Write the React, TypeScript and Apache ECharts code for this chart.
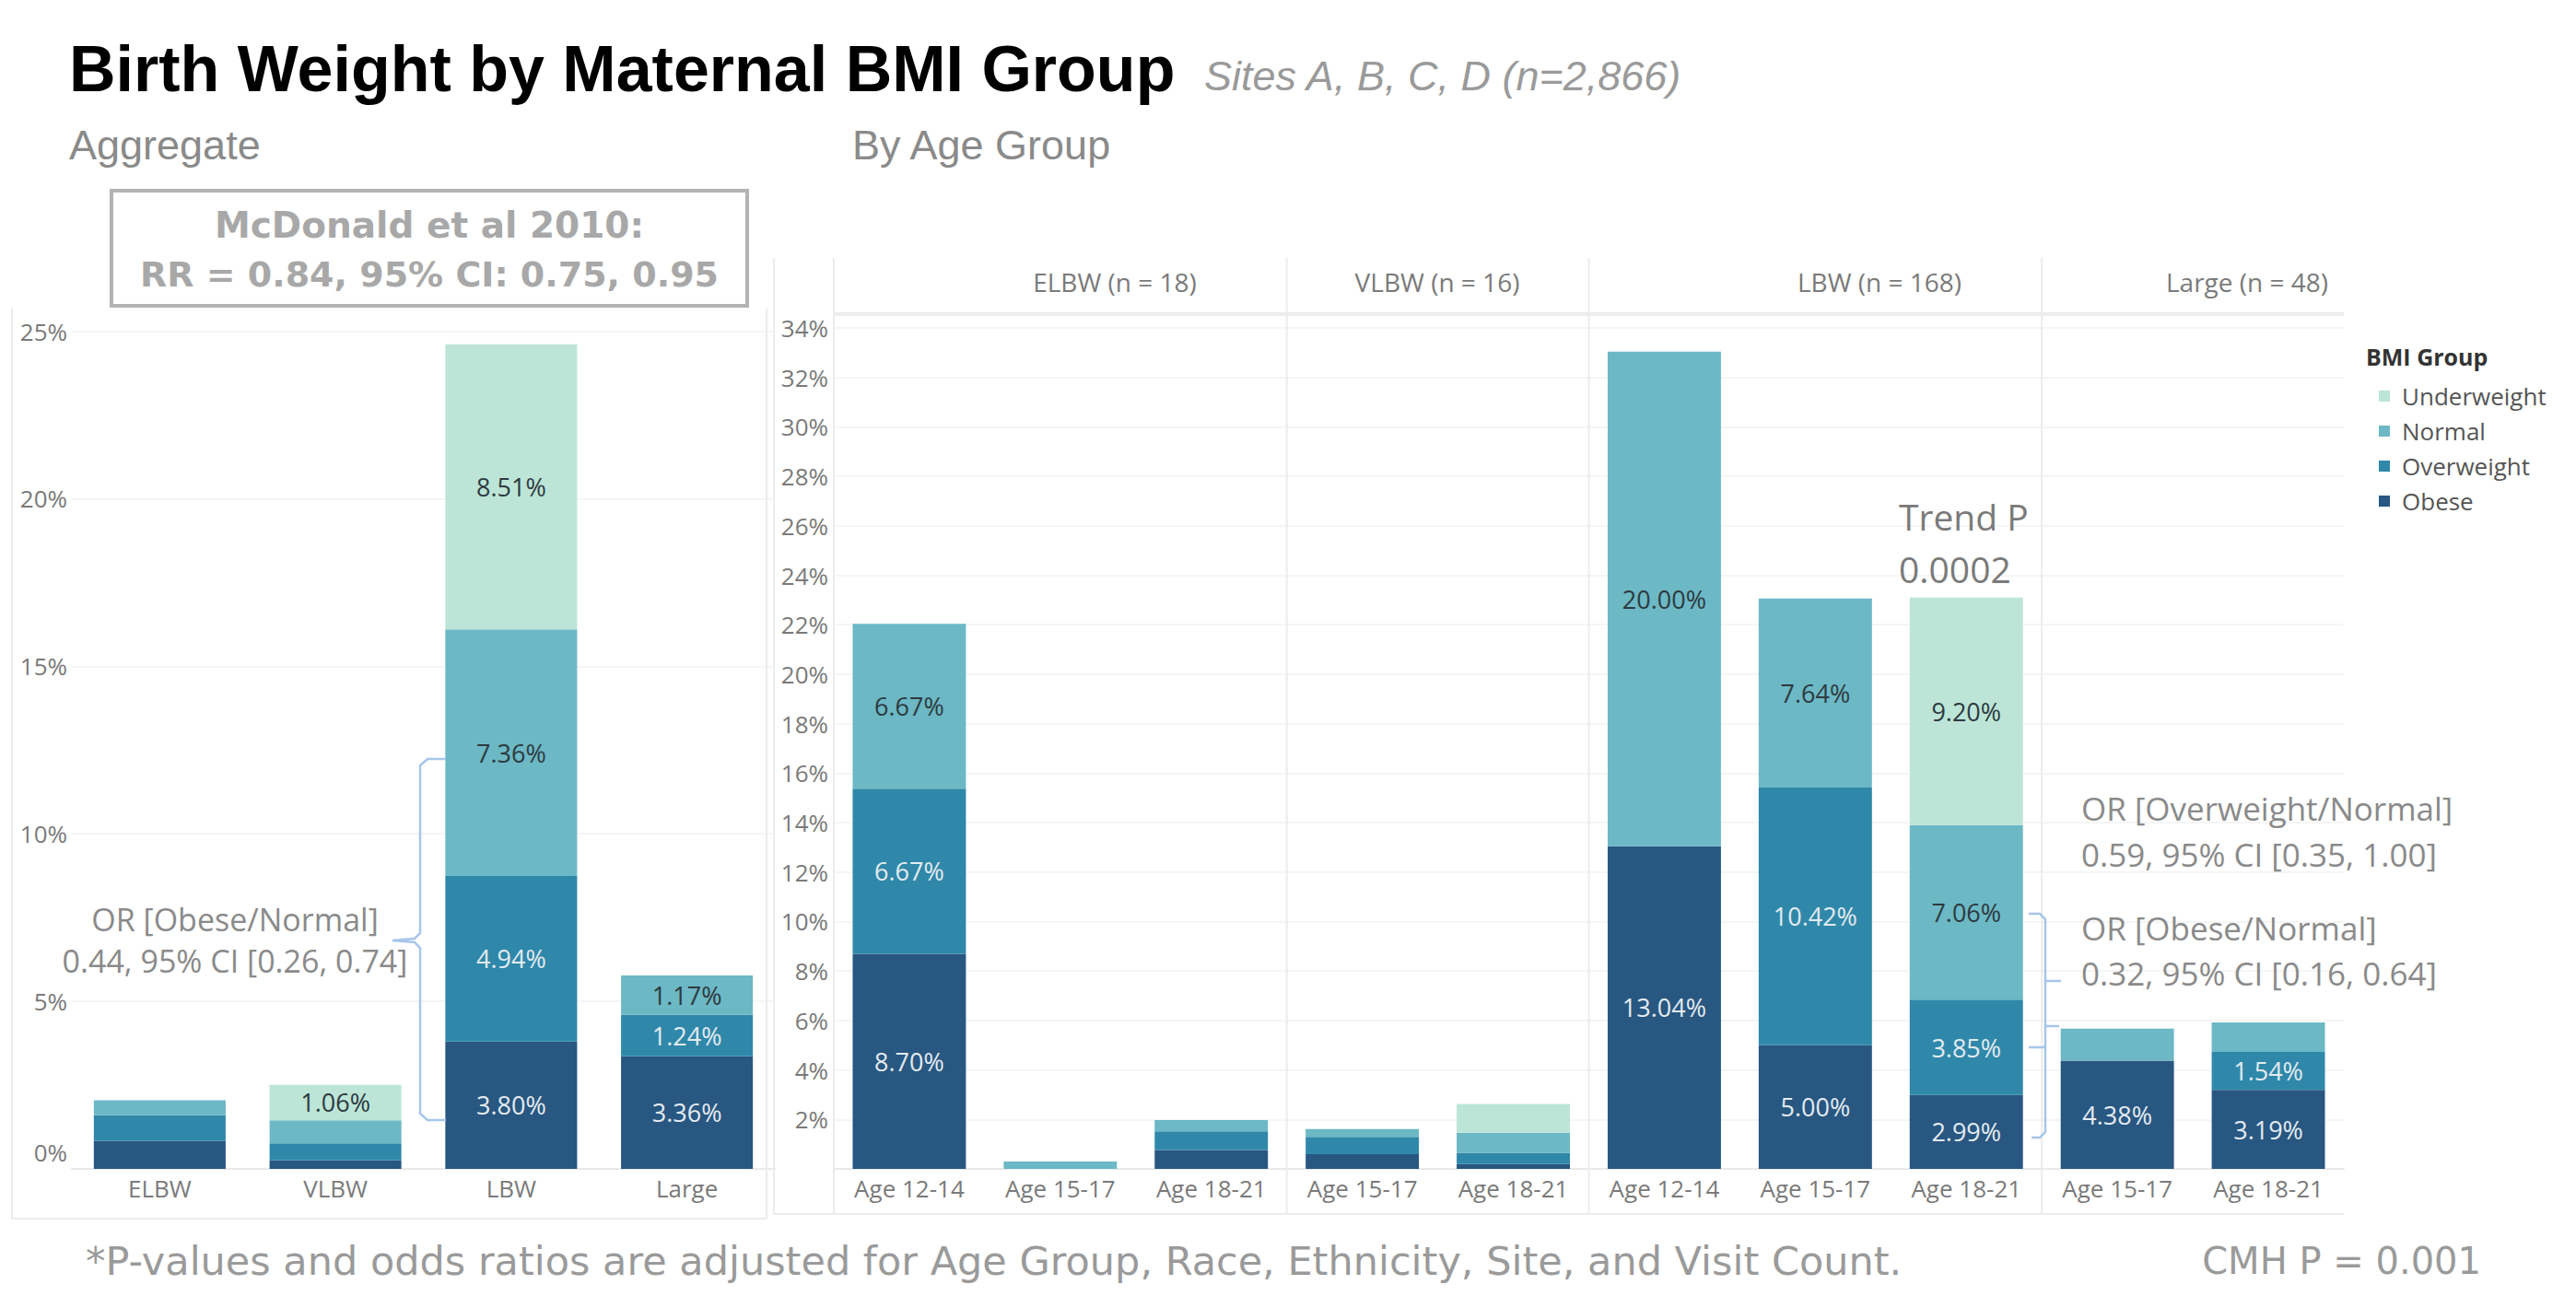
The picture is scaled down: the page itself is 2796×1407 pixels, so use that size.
import React, { useEffect, useRef } from 'react';
import * as echarts from 'echarts';

// ---------- DATA ----------
const bmiGroups = ['Underweight', 'Normal', 'Overweight', 'Obese'];
const bmiColors: Record<string, string> = {
  Underweight: '#bce5d7',
  Normal: '#6cb8c5',
  Overweight: '#2f88a9',
  Obese: '#285781',
};

// Aggregate panel
const aggCategories = ['ELBW', 'VLBW', 'LBW', 'Large'];
const aggObese = [0.84, 0.26, 3.8, 3.36];
const aggOverweight = [0.76, 0.5, 4.94, 1.24];
const aggNormal = [0.45, 0.69, 7.36, 1.17];
const aggUnderweight = [0, 1.06, 8.51, 0];
const aggObeseShow = [false, false, true, true];
const aggOverweightShow = [false, false, true, true];
const aggNormalShow = [false, false, true, true];
const aggUnderweightShow = [false, true, true, false];

// By age group panel
const facetNames = ['ELBW (n = 18)', 'VLBW (n = 16)', 'LBW (n = 168)', 'Large (n = 48)'];
const facetAges = [
  ['Age 12-14', 'Age 15-17', 'Age 18-21'],
  ['Age 15-17', 'Age 18-21'],
  ['Age 12-14', 'Age 15-17', 'Age 18-21'],
  ['Age 15-17', 'Age 18-21'],
];
const ageObese = [8.7, 0, 0.76, 0.6, 0.2, 13.04, 5.0, 2.99, 4.38, 3.19];
const ageOverweight = [6.67, 0, 0.76, 0.69, 0.45, 0, 10.42, 3.85, 0, 1.54];
const ageNormal = [6.67, 0.3, 0.45, 0.32, 0.81, 20.0, 7.64, 7.06, 1.29, 1.19];
const ageUnderweight = [0, 0, 0, 0, 1.17, 0, 0, 9.2, 0, 0];
const ageObeseShow = [true, false, false, false, false, true, true, true, true, true];
const ageOverweightShow = [true, false, false, false, false, false, true, true, false, true];
const ageNormalShow = [true, false, false, false, false, true, true, true, false, false];
const ageUnderweightShow = [false, false, false, false, false, false, false, true, false, false];

const aggAxis = { min: 0, max: 25, interval: 5 };
const ageAxis = { min: 0, max: 34, interval: 2 };

// ---------- HELPERS ----------
const FONT = 'Open Sans';
const ageCategoryIds: string[] = [];
facetNames.forEach((f, fi) => facetAges[fi].forEach((a) => ageCategoryIds.push(f + '|' + a)));

const mk = (vals: number[], shows: boolean[]) =>
  vals.map((v, i) => ({ value: v, label: { show: shows[i] && v > 0 } }));

const lightText = '#e4ebf1';
const darkText = '#2d3a40';
const labelColor: Record<string, string> = {
  Underweight: darkText,
  Normal: darkText,
  Overweight: lightText,
  Obese: lightText,
};

function barSeries(name: string, data: any[], axisIndex: number, stack: string) {
  return {
    type: 'bar',
    name,
    stack,
    xAxisIndex: axisIndex,
    yAxisIndex: axisIndex,
    barWidth: '75%',
    data,
    itemStyle: { color: bmiColors[name] },
    label: {
      show: false,
      position: 'inside',
      formatter: (p: any) => Number(p.value).toFixed(2) + '%',
      color: labelColor[name],
      fontSize: 27,
      fontFamily: FONT,
    },
    emphasis: { disabled: true },
  };
}

const aggSeriesData: Record<string, any[]> = {
  Obese: mk(aggObese, aggObeseShow),
  Overweight: mk(aggOverweight, aggOverweightShow),
  Normal: mk(aggNormal, aggNormalShow),
  Underweight: mk(aggUnderweight, aggUnderweightShow),
};
const ageSeriesData: Record<string, any[]> = {
  Obese: mk(ageObese, ageObeseShow),
  Overweight: mk(ageOverweight, ageOverweightShow),
  Normal: mk(ageNormal, ageNormalShow),
  Underweight: mk(ageUnderweight, ageUnderweightShow),
};
const stackOrder = ['Obese', 'Overweight', 'Normal', 'Underweight'];

const axisLabelBase = { color: '#7a7a7a', fontSize: 26, fontFamily: FONT };

const option: any = {
  animation: false,
  backgroundColor: '#ffffff',
  textStyle: { fontFamily: FONT },
  legend: {
    orient: 'vertical',
    left: 2577,
    top: 411,
    data: bmiGroups,
    icon: 'rect',
    itemWidth: 12,
    itemHeight: 12,
    itemGap: 10,
    selectedMode: false,
    textStyle: { fontSize: 26, color: '#555', fontFamily: FONT, lineHeight: 28, padding: [0, 0, 0, 8] },
  },
  grid: [
    { left: 78, width: 763, top: 359.5, height: 909.5 },
    { left: 905, width: 1639, top: 356, height: 913 },
  ],
  xAxis: [
    {
      type: 'category',
      gridIndex: 0,
      data: aggCategories,
      axisLine: { show: true, lineStyle: { color: '#e9e9e9', width: 2 } },
      axisTick: { show: false },
      axisLabel: { ...axisLabelBase, margin: 8 },
    },
    {
      type: 'category',
      gridIndex: 1,
      data: ageCategoryIds,
      axisLine: { show: true, lineStyle: { color: '#e9e9e9', width: 2 } },
      axisTick: { show: false },
      axisLabel: { ...axisLabelBase, margin: 8, interval: 0, formatter: (v: string) => v.split('|')[1] },
    },
  ],
  yAxis: [
    {
      type: 'value',
      gridIndex: 0,
      ...aggAxis,
      axisLine: { show: false },
      axisTick: { show: false },
      splitLine: { lineStyle: { color: '#f2f2f2', width: 1.5 } },
      axisLabel: {
        ...axisLabelBase,
        margin: 5,
        formatter: (v: number) => (v === 0 ? '{z|0%}' : v + '%'),
        rich: { z: { ...axisLabelBase, padding: [0, 0, 36, 0] } },
      },
    },
    {
      type: 'value',
      gridIndex: 1,
      ...ageAxis,
      axisLine: { show: false },
      axisTick: { show: false },
      splitLine: { lineStyle: { color: '#f2f2f2', width: 1.5 } },
      axisLabel: {
        ...axisLabelBase,
        margin: 6,
        formatter: (v: number) => (v === 0 ? '' : v + '%'),
      },
    },
  ],
  series: [
    ...stackOrder.map((n) => barSeries(n, aggSeriesData[n], 0, 'agg')),
    ...stackOrder.map((n) => barSeries(n, ageSeriesData[n], 1, 'age')),
  ],
};

function txt(x: number, y: number, text: string, o: any = {}) {
  return {
    type: 'text',
    x,
    y,
    z: 100,
    style: {
      text,
      fill: o.fill || '#888',
      fontSize: o.fontSize || 28,
      fontFamily: o.fontFamily || FONT,
      fontWeight: o.fontWeight || 'normal',
      fontStyle: o.fontStyle || 'normal',
      align: o.align || 'left',
      verticalAlign: 'middle',
    },
  };
}
function ln(x1: number, y1: number, x2: number, y2: number, stroke = '#ececec', lineWidth = 2) {
  return { type: 'line', z: 1, shape: { x1, y1, x2, y2 }, style: { stroke, lineWidth } };
}
function pl(points: number[][], stroke = '#a6c6ea', lineWidth = 2.5) {
  return { type: 'polyline', z: 100, shape: { points }, style: { stroke, lineWidth, fill: null } };
}

export default function App() {
  const ref = useRef<HTMLDivElement>(null);
  useEffect(() => {
    document.body.style.margin = '0';
    const chart = echarts.init(ref.current!, null, { renderer: 'svg', width: 2796, height: 1407 });
    chart.setOption(option);

    const px = (id: string) => chart.convertToPixel({ xAxisIndex: 1 }, id) as number;
    const seps: number[] = [];
    let idx = 0;
    facetAges.forEach((ages, fi) => {
      idx += ages.length;
      if (fi < facetAges.length - 1) {
        seps.push((px(ageCategoryIds[idx - 1]) + px(ageCategoryIds[idx])) / 2);
      }
    });
    const headerX = [1210, 1560, 2040, 2439];
    const paneTop = 280;
    const paneBottom = 1318;

    const graphics: any[] = [
      txt(75, 75, 'Birth Weight by Maternal BMI Group', {
        fontSize: 70, fontWeight: 'bold', fontFamily: 'Liberation Sans', fill: '#000',
      }),
      txt(1307, 82, 'Sites A, B, C, D (n=2,866)', {
        fontSize: 45, fontStyle: 'italic', fontFamily: 'Liberation Sans', fill: '#9a9a9a',
      }),
      txt(75, 157, 'Aggregate', { fontSize: 45, fontFamily: 'Liberation Sans', fill: '#8a8a8a' }),
      txt(925, 157, 'By Age Group', { fontSize: 45, fontFamily: 'Liberation Sans', fill: '#8a8a8a' }),
      {
        type: 'rect', z: 100,
        shape: { x: 121, y: 207, width: 690, height: 125 },
        style: { fill: 'transparent', stroke: '#b3b3b3', lineWidth: 4 },
      },
      txt(466, 244, 'McDonald et al 2010:', {
        fontSize: 39, fontWeight: 'bold', fontFamily: 'DejaVu Sans', fill: '#a8a8a8', align: 'center',
      }),
      txt(466, 298, 'RR = 0.84, 95% CI: 0.75, 0.95', {
        fontSize: 38, fontWeight: 'bold', fontFamily: 'DejaVu Sans', fill: '#a8a8a8', align: 'center',
      }),
      // pane borders
      ln(13, 335, 13, 1323),
      ln(13, 1323, 832, 1323),
      ln(832, 335, 832, 1323),
      ln(840, paneTop, 840, paneBottom),
      ln(840, paneBottom, 2544, paneBottom),
      ln(905, paneTop, 905, paneBottom),
      ln(905, 341, 2544, 341, '#ededed', 4),
      ...seps.map((s) => ln(s, paneTop, s, paneBottom)),
      ...facetNames.map((f, i) => txt(headerX[i], 306, f, { fontSize: 28, fill: '#7a7a7a', align: 'center' })),
      // legend title
      txt(2568, 387, 'BMI Group', { fontSize: 25, fontWeight: 'bold', fill: '#333' }),
      // left bracket
      pl([[484, 824], [464, 824], [456, 831], [456, 1013], [450, 1019], [426, 1021], [450, 1023], [456, 1029], [456, 1209], [464, 1216], [484, 1216]]),
      txt(255, 998, 'OR [Obese/Normal]', { fontSize: 34, fill: '#8a8a8a', align: 'center' }),
      txt(255, 1043, '0.44, 95% CI [0.26, 0.74]', { fontSize: 34, fill: '#8a8a8a', align: 'center' }),
      // right bracket
      pl([[2202, 992], [2214, 992], [2220, 998], [2220, 1229], [2214, 1235], [2205, 1235]]),
      pl([[2220, 1065], [2237, 1065]]),
      pl([[2220, 1114], [2235, 1114]]),
      pl([[2202, 1137], [2220, 1137]]),
      txt(2061, 560, 'Trend P', { fontSize: 39, fill: '#7a7a7a' }),
      txt(2061, 617, '0.0002', { fontSize: 39, fill: '#7a7a7a' }),
      txt(2259, 877, 'OR [Overweight/Normal]', { fontSize: 35, fill: '#8a8a8a' }),
      txt(2259, 927, '0.59, 95% CI [0.35, 1.00]', { fontSize: 35, fill: '#8a8a8a' }),
      txt(2259, 1007, 'OR [Obese/Normal]', { fontSize: 35, fill: '#8a8a8a' }),
      txt(2259, 1056, '0.32, 95% CI [0.16, 0.64]', { fontSize: 35, fill: '#8a8a8a' }),
      // footer
      txt(93, 1369, '*P-values and odds ratios are adjusted for Age Group, Race, Ethnicity, Site, and Visit Count.', {
        fontSize: 43, fill: '#9a9a9a', fontFamily: 'DejaVu Sans',
      }),
      txt(2693, 1369, 'CMH P = 0.001', { fontSize: 40, fill: '#9a9a9a', align: 'right', fontFamily: 'DejaVu Sans' }),
    ];
    chart.setOption({ graphic: graphics });
    return () => chart.dispose();
  }, []);
  return <div ref={ref} style={{ width: 2796, height: 1407 }} />;
}
